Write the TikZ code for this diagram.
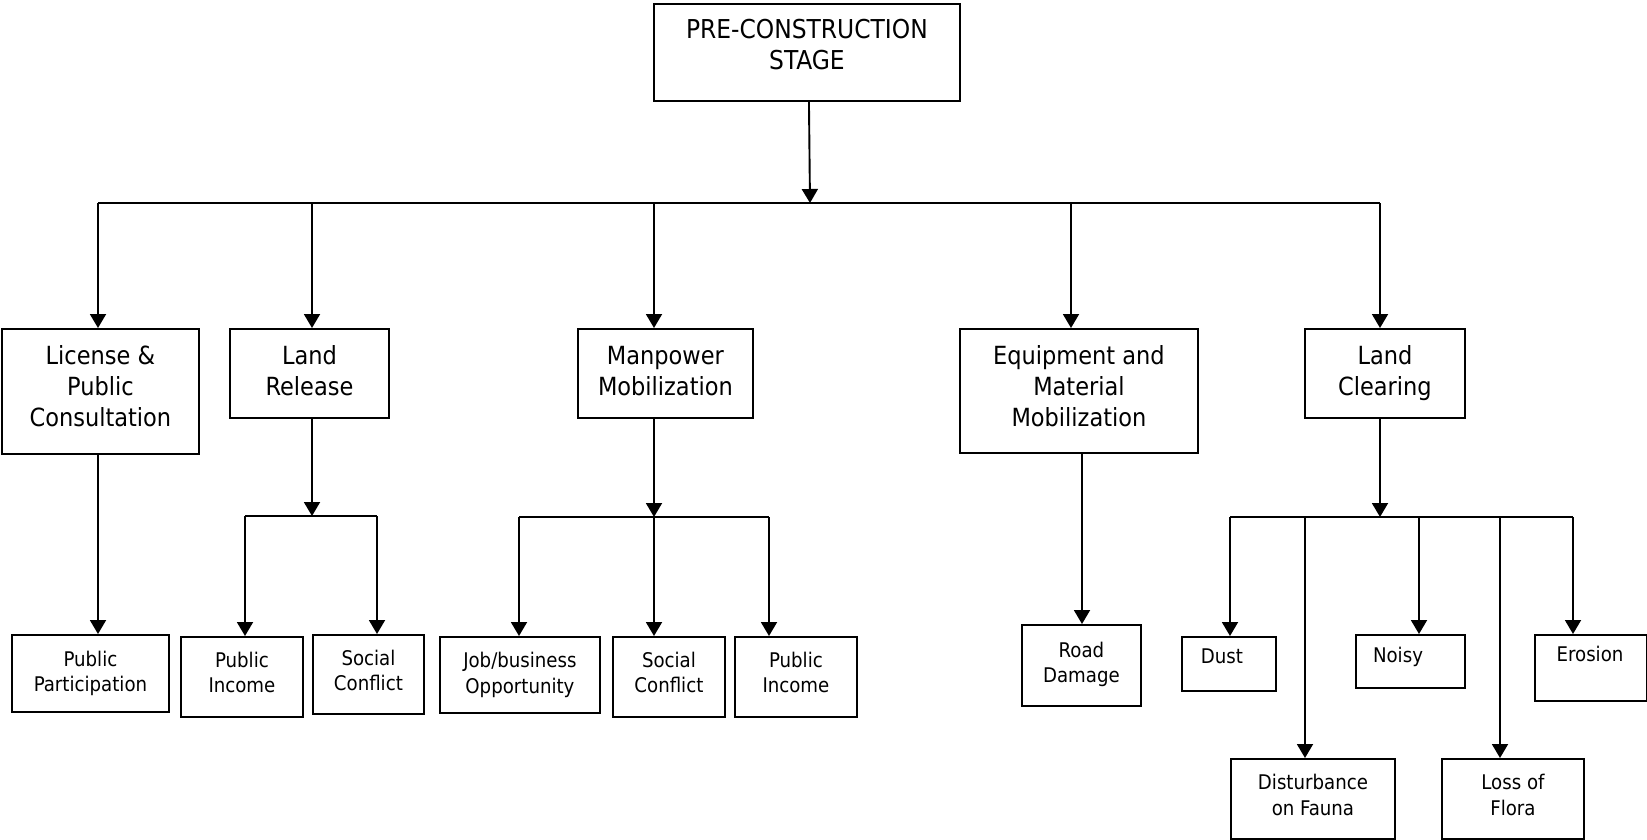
\documentclass[tikz,border=0pt]{standalone}
\usepackage{fontspec}
\setmainfont{DejaVu Sans Condensed}
\usetikzlibrary{arrows.meta,calc}
\begin{document}
\begin{tikzpicture}[x=1pt,y=-1pt,
  box/.style={draw,line width=1.9pt,inner sep=0pt,align=center,anchor=north west},
  top/.style={font=\fontsize{26}{31}\selectfont},
  big/.style={font=\fontsize{25}{31}\selectfont},
  small/.style={font=\fontsize{20.2}{25.5}\selectfont},
  ln/.style={line width=1.9pt},
  arr/.style={line width=1.9pt,-{Triangle[width=16pt,length=14pt]}},
  sz/.style 2 args={minimum width=#1pt,minimum height=#2pt}]
\useasboundingbox (0,0) rectangle (1647,839);

% root (the short empty last row lifts the text a little)
\node[box,top,sz={306}{97}] (pre) at (653,3) {PRE-CONSTRUCTION\\STAGE\\[-15pt]};

% first level
\node[box,big,sz={197}{125}] (lic) at (1,328) {License \&\\Public\\Consultation\\[-20.5pt]};
\node[box,big,sz={159}{89}]  (lr)  at (229,328) {Land\\Release\\[-25pt]};
\node[box,big,sz={175}{89}]  (mp)  at (577,328) {Manpower\\Mobilization\\[-25pt]};
\node[box,big,sz={238}{124}] (eq)  at (959,328) {Equipment and\\Material\\Mobilization\\[-20.5pt]};
\node[box,big,sz={160}{89}]  (lc)  at (1304,328) {Land\\Clearing\\[-25pt]};

% second level
\node[box,small,sz={157}{77}]  (pp)   at (11,634)  {Public\\Participation};
\node[box,small,sz={122}{80}]  (pi1)  at (180,636) {Public\\Income\\[-16pt]};
\node[box,small,sz={111}{79}]  (sc1)  at (312,634) {Social\\Conflict\\[-17pt]};
\node[box,small,sz={160}{76}]  (jb)   at (439,636) {Job/business\\Opportunity};
\node[box,small,sz={112}{80}]  (sc2)  at (612,636) {Social\\Conflict\\[-16pt]};
\node[box,small,sz={122}{80}]  (pi2)  at (734,636) {Public\\Income\\[-16pt]};
\node[box,small,sz={119}{81}]  (rd)   at (1021,624) {Road\\Damage\\[-19.5pt]};
\node[box,sz={94}{54}]         (dust) at (1181,636) {};
\node[small] (dustT) at (1222,656) {Dust};
\node[box,sz={109}{53}]        (noisy) at (1355,634) {};
\node[small] (noisyT) at (1398,657) {Noisy};
\node[box,sz={112}{66}]        (eros) at (1534,634) {};
\node[small] (erosT) at (1590,654) {Erosion};
\node[box,small,sz={164}{80}]  (dist) at (1230,758) {Disturbance\\on Fauna\\[-17pt]};
\node[box,small,sz={142}{80}]  (loss) at (1441,758) {Loss of\\Flora\\[-17pt]};

% root to first level
\coordinate (j0) at (810,203);
\draw[arr] ([xshift=2pt]pre.south) -- (j0);
\coordinate (t1) at (98,203);
\coordinate (t2) at (312,203);
\coordinate (t3) at (654,203);
\coordinate (t4) at (1071,203);
\coordinate (t5) at (1380,203);
\draw[ln] (t1) -- (t5);
\draw[arr] (t1) -- (t1 |- lic.north);
\draw[arr] (t2) -- (t2 |- lr.north);
\draw[arr] (t3) -- (t3 |- mp.north);
\draw[arr] (t4) -- (t4 |- eq.north);
\draw[arr] (t5) -- (t5 |- lc.north);

% license
\draw[arr] (t1 |- lic.south) -- (t1 |- pp.north);

% land release
\coordinate (h2) at (312,516);
\coordinate (h2l) at (245,516);
\coordinate (h2r) at (377,516);
\draw[arr] (h2 |- lr.south) -- (h2);
\draw[ln] (h2l) -- (h2r);
\draw[arr] (h2l) -- (h2l |- pi1.north);
\draw[arr] (h2r) -- (h2r |- sc1.north);

% manpower
\coordinate (h3) at (654,517);
\coordinate (h3l) at (519,517);
\coordinate (h3r) at (769,517);
\draw[arr] (h3 |- mp.south) -- (h3);
\draw[ln] (h3l) -- (h3r);
\draw[arr] (h3l) -- (h3l |- jb.north);
\draw[arr] (h3) -- (h3 |- sc2.north);
\draw[arr] (h3r) -- (h3r |- pi2.north);

% equipment
\coordinate (h4) at (1082,452);
\draw[arr] (h4 |- eq.south) -- (h4 |- rd.north);

% land clearing
\coordinate (h5) at (1380,517);
\coordinate (h5a) at (1230,517);
\coordinate (h5b) at (1305,517);
\coordinate (h5c) at (1419,517);
\coordinate (h5d) at (1500,517);
\coordinate (h5e) at (1573,517);
\draw[arr] (h5 |- lc.south) -- (h5);
\draw[ln] (h5a) -- (h5e);
\draw[arr] (h5a) -- (h5a |- dust.north);
\draw[arr] (h5b) -- (h5b |- dist.north);
\draw[arr] (h5c) -- (h5c |- noisy.north);
\draw[arr] (h5d) -- (h5d |- loss.north);
\draw[arr] (h5e) -- (h5e |- eros.north);
\end{tikzpicture}
\end{document}
